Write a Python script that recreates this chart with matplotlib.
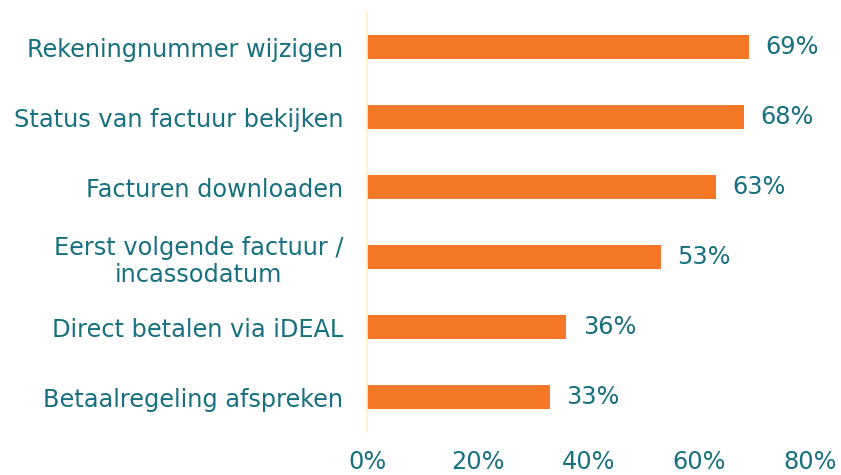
import matplotlib.pyplot as plt

# Data
categories = [
    "Rekeningnummer wijzigen",
    "Status van factuur bekijken",
    "Facturen downloaden",
    "Eerst volgende factuur /\nincassodatum",
    "Direct betalen via iDEAL",
    "Betaalregeling afspreken",
]
values = [69, 68, 63, 53, 36, 33]
xticks = [0, 20, 40, 60, 80]

text_color = "#17707f"
bar_color = "#f47726"
fs = 17.3

fig = plt.figure(figsize=(8.41, 4.75), dpi=100)
ax = fig.add_axes([0.4364, 0.0905, 0.5268, 0.8842])

ypos = list(range(len(categories)))[::-1]
ax.barh(ypos, values, height=0.35, color=bar_color)

for y, v in zip(ypos, values):
    ax.text(v + 3.0, y, f"{v}%", va="center", ha="left", fontsize=fs, color=text_color)

ax.set_xlim(0, 80)
ax.set_ylim(-0.5, 5.5)
ax.set_yticks(ypos)
ax.set_yticklabels(categories, fontsize=fs, color=text_color, multialignment="center")
ax.set_xticks(xticks)
ax.set_xticklabels([f"{t}%" for t in xticks], fontsize=fs, color=text_color)

ax.tick_params(axis="both", length=0)
ax.tick_params(axis="y", pad=17)
ax.tick_params(axis="x", pad=13)
for s in ["top", "right", "bottom"]:
    ax.spines[s].set_visible(False)
ax.spines["left"].set_color("#fff3c8")
ax.spines["left"].set_linewidth(1.2)

fig.savefig("out.png", dpi=100)
